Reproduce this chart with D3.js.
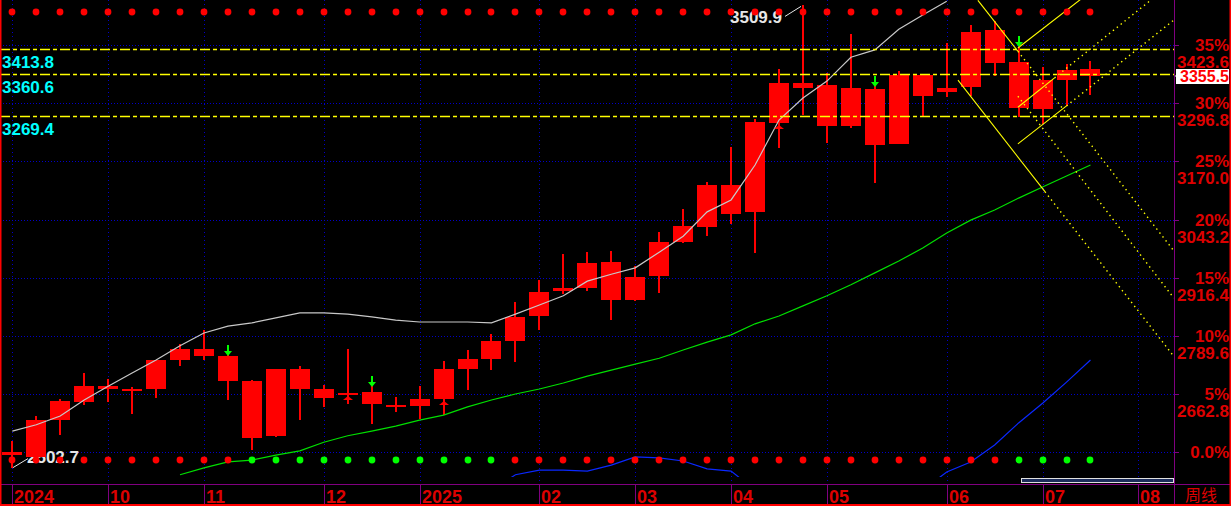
<!DOCTYPE html>
<html><head><meta charset="utf-8">
<script src="https://cdn.jsdelivr.net/npm/d3@7/dist/d3.min.js"></script>
<style>html,body{margin:0;padding:0;background:#000;overflow:hidden}</style>
</head><body><svg id="c" width="1231" height="506"></svg>
<script>
// ---------- data ----------
const basePrice = 2536.0;
const opens  = [2530,2526,2606,2646,2674,2674,2674,2737,2761,2746,2692,2572,2717,2674,2662,2667,2639,2637,2652,2717,2739,2778,2833,2887,2894,2950,2868,2920,2994,3027,3118,3060,3253,3341,3336,3247,3327,3207,3358,3321,3332,3456,3386,3284,3347,3371];
const closes = [2536,2606,2648,2680,2681,2670,2737,2761,2746,2692,2568,2717,2674,2655,2666,2642,2636,2652,2717,2739,2778,2831,2885,2894,2948,2868,2918,2994,3029,3118,3055,3256,3341,3330,3247,3330,3206,3358,3312,3330,3452,3384,3286,3347,3369,3355.5];
const highs  = [2561,2615,2652,2709,2696,2679,2737,2771,2802,2748,2693,2718,2725,2683,2761,2681,2656,2680,2735,2759,2794,2863,2911,2968,2972,2975,2942,3016,3066,3125,3201,3262,3371,3509.9,3362,3447,3334,3367,3358,3428,3467,3476,3421,3375,3382,3389];
const lows   = [2502.7,2519,2574,2639,2646,2619,2655,2723,2737,2650,2541,2569,2606,2635,2642,2598,2624,2609,2617,2672,2715,2733,2802,2881,2887,2824,2866,2883,2992,3007,3033,2970,3199,3271,3210,3243,3123,3207,3269,3310,3312,3356,3267,3251,3291,3314];

const maGrey = [2582,2596,2615,2650,2680,2709,2737,2768,2796,2811,2818,2829,2840,2840,2837,2831,2824,2820,2820,2820,2818,2837,2857,2877,2909,2924,2938,2972,3007,3060,3086,3162,3260,3308,3345,3397,3413,3458,3489,3519,null,null,null,null,null,null];
const maGreen = [null,null,null,null,null,null,null,2487,2502,2515,2519,2530,2539,2558,2572,2582,2593,2606,2617,2635,2650,2663,2674,2687,2702,2715,2728,2741,2759,2776,2792,2816,2833,2855,2877,2901,2927,2953,2981,3014,3042,3064,3090,3114,3138,3162];
const maBlue = [null,null,null,null,null,null,null,null,null,null,null,null,null,null,null,null,null,null,null,null,2454,2487,2497,2497,2495,2508,2526,2524,2517,2500,2495,2454,null,null,null,null,null,null,2454,2493,2515,2552,2600,2643,2689,2737];

// bottom signal dots: 1 = red, 0 = green
const bottomSignal = [1,1,1,1,1,1,1,1,1,1,0,0,0,0,0,0,0,0,0,0,0,1,1,1,1,1,1,1,1,1,1,1,1,1,1,1,1,1,1,1,1,1,0,0,0,0];

const monthIdx    = [0,4,8,13,17,22,26,30,34,39,43,47];
const monthLabels = ["2024","10","11","12","2025","02","03","04","05","06","07","08"];

const pctTicks    = [0,5,10,15,20,25,30,35];
const pctLabels   = ["0.0%","5%","10%","15%","20%","25%","30%","35%"];
const priceLabels = ["","2662.8","2789.6","2916.4","3043.2","3170.0","3296.8","3423.6"];

const levelPrices = [3413.8, 3360.6, 3269.4];
const levelLabels = ["3413.8","3360.6","3269.4"];

// drawn trend lines: [startIndex, startPrice, endIndex, endPrice, style]
const trendLines = [
  [40.3, 3521, 41.97, 3410, "solid"],
  [41.97, 3410, 48.48, 2975, "dot"],
  [41.97, 3312, 48.48, 2872, "dot"],
  [39.47, 3347, 43.1, 3104, "solid"],
  [43.1, 3104, 48.48, 2745, "dot"],
  [41.97, 3417, 45.5, 3560, "solid"],
  [41.97, 3288, 43.5, 3352, "solid"],
  [43.5, 3352, 48.48, 3562, "dot"],
  [41.97, 3208, 44, 3291, "solid"],
  [44, 3291, 48.48, 3478, "dot"]
];

const greenArrowIdx = [9, 15, 36, 42];
const redArrowIdx = [14, 18, 32];

const maxLabel = "3509.9";
const minLabel = "2502.7";
const periodLabel = "周线";

// ---------- layout ----------
const W = 1231, H = 506;
const plotR = 1174, plotB = 477, axisY = 484;
const xS = d3.scaleLinear().domain([0, 47]).range([12.3, 1138.4]);
const yS = d3.scaleLinear().domain([basePrice, basePrice * 1.35]).range([452.3, 45]);
const red = "#ff0000", axisRed = "#dd0000", purple = "#800080", gridBlue = "#0000c8";
const font = "'Liberation Sans', Arial, sans-serif";

const svg = d3.select("#c");
svg.append("rect").attr("width", W).attr("height", H).attr("fill", "#000");
const defs = svg.append("defs");
defs.append("clipPath").attr("id", "plot").append("rect").attr("x", 0).attr("y", 0).attr("width", plotR).attr("height", plotB);

const px = i => Math.round(xS(i));

// grid
const grid = svg.append("g").attr("shape-rendering", "crispEdges");
pctTicks.forEach(p => {
  const y = Math.round(yS(basePrice * (1 + p / 100))) + 0.5;
  grid.append("line").attr("x1", 0).attr("x2", plotR).attr("y1", y).attr("y2", y)
    .attr("stroke", gridBlue).attr("stroke-dasharray", "1 2");
});
monthIdx.forEach(i => {
  const x = px(i) + 0.5;
  grid.append("line").attr("x1", x).attr("x2", x).attr("y1", 0).attr("y2", axisY)
    .attr("stroke", gridBlue).attr("stroke-dasharray", "1 3");
});

// min / max labels (under candles)
const iMax = highs.indexOf(d3.max(highs)), iMin = lows.indexOf(d3.min(lows));
svg.append("text").attr("x", px(iMax) - 73).attr("y", yS(highs[iMax]) + 18)
  .attr("fill", "#e6e6e6").attr("font-family", font).attr("font-weight", "bold").attr("font-size", 17).text(maxLabel);
svg.append("line").attr("x1", px(iMax) - 18).attr("y1", yS(highs[iMax]) + 11).attr("x2", px(iMax) - 2).attr("y2", yS(highs[iMax]) + 1)
  .attr("stroke", "#e6e6e6");
svg.append("text").attr("x", px(iMin) + 15).attr("y", yS(lows[iMin]) - 5)
  .attr("fill", "#e6e6e6").attr("font-family", font).attr("font-weight", "bold").attr("font-size", 17).text(minLabel);
svg.append("line").attr("x1", px(iMin) + 1).attr("y1", yS(lows[iMin])).attr("x2", px(iMin) + 16).attr("y2", yS(lows[iMin]) - 9)
  .attr("stroke", "#e6e6e6");

// candles
const cg = svg.append("g").attr("clip-path", "url(#plot)").attr("shape-rendering", "crispEdges");
opens.forEach((o, i) => {
  const c = closes[i];
  const x = px(i);
  const yh = Math.round(yS(highs[i])), yl = Math.round(yS(lows[i]));
  cg.append("rect").attr("x", x - 1).attr("y", yh).attr("width", 2).attr("height", Math.max(1, yl - yh)).attr("fill", red);
  let yt = Math.round(yS(Math.max(o, c))), yb = Math.round(yS(Math.min(o, c)));
  if (yb - yt < 2) { yb = yt + 2; }
  cg.append("rect").attr("x", x - 10).attr("y", yt).attr("width", 20).attr("height", yb - yt).attr("fill", red);
});

// overlay lines
const og = svg.append("g").attr("clip-path", "url(#plot)");
const lineGen = d3.line().defined(d => d[1] != null).x(d => xS(d[0])).y(d => yS(d[1]));
[[maGrey, "#c8c8c8"], [maGreen, "#00e000"], [maBlue, "#0a28ff"]].forEach(([arr, col]) => {
  og.append("path").attr("d", lineGen(arr.map((v, i) => [i, v]))).attr("fill", "none")
    .attr("stroke", col).attr("stroke-width", 1.2);
});

// horizontal level lines
levelPrices.forEach((p, k) => {
  const y = Math.round(yS(p)) + 0.5;
  og.append("line").attr("x1", 0).attr("x2", plotR).attr("y1", y).attr("y2", y)
    .attr("stroke", "#ffff00").attr("stroke-width", 1.3).attr("stroke-dasharray", "10 3 4 3");
  svg.append("text").attr("x", 2).attr("y", y + 18).attr("fill", "#00ffff")
    .attr("font-family", font).attr("font-weight", "bold").attr("font-size", 17).text(levelLabels[k]);
});

// trend lines
trendLines.forEach(([i0, p0, i1, p1, st]) => {
  og.append("line").attr("x1", xS(i0)).attr("y1", yS(p0)).attr("x2", xS(i1)).attr("y2", yS(p1))
    .attr("stroke", "#ffff00").attr("stroke-width", st === "dot" ? 1.4 : 1.1)
    .attr("stroke-dasharray", st === "dot" ? "1.4 3.6" : null);
});

// signal dots
const dg = svg.append("g");
opens.forEach((o, i) => {
  dg.append("circle").attr("cx", px(i)).attr("cy", 12).attr("r", 3.4).attr("fill", red);
  dg.append("circle").attr("cx", px(i)).attr("cy", 460).attr("r", 3.4).attr("fill", bottomSignal[i] ? red : "#00ff00");
});

// arrow markers
greenArrowIdx.forEach(i => {
  const x = px(i), y = Math.round(yS(highs[i]));
  dg.append("path").attr("d", `M${x - 1},${y - 10}h2v6h3l-4,5l-4,-5h3z`).attr("fill", "#00ff00");
});
redArrowIdx.forEach(i => {
  const x = px(i), y = Math.round(yS(Math.min(opens[i], closes[i]))) + 2;
  dg.append("path").attr("d", `M${x},${y}l5,4h-10z`).attr("fill", red);
});

// right axis
const ax = svg.append("g");
ax.append("rect").attr("x", plotR + 1).attr("y", 0).attr("width", W - plotR - 1).attr("height", axisY).attr("fill", "#000");
ax.append("line").attr("x1", plotR + 0.5).attr("x2", plotR + 0.5).attr("y1", 0).attr("y2", H).attr("stroke", purple);
pctTicks.forEach((p, k) => {
  const y = Math.round(yS(basePrice * (1 + p / 100)));
  ax.append("line").attr("x1", plotR).attr("x2", plotR + 5).attr("y1", y + 0.5).attr("y2", y + 0.5).attr("stroke", purple);
  ax.append("text").attr("x", 1229).attr("y", y + 6).attr("text-anchor", "end").attr("fill", axisRed)
    .attr("font-family", font).attr("font-weight", "bold").attr("font-size", 17).text(pctLabels[k]);
  if (priceLabels[k]) {
    ax.append("text").attr("x", 1229).attr("y", y + 23).attr("text-anchor", "end").attr("fill", axisRed)
      .attr("font-family", font).attr("font-weight", "bold").attr("font-size", 17).text(priceLabels[k]);
  }
});
// current price box
const last = closes[closes.length - 1];
const yc = Math.round(yS(last));
ax.append("rect").attr("x", 1176).attr("y", yc - 7).attr("width", 53).attr("height", 15).attr("fill", "#fff");
ax.append("path").attr("d", `M${plotR + 1},${yc}l3,-3v6z`).attr("fill", "#fff");
ax.append("text").attr("x", 1229).attr("y", yc + 6).attr("text-anchor", "end").attr("fill", red)
  .attr("font-family", font).attr("font-weight", "bold").attr("font-size", 16).text(last.toFixed(1));

// bottom axis
const bx = svg.append("g").attr("shape-rendering", "crispEdges");
bx.append("line").attr("x1", 0).attr("x2", W).attr("y1", axisY + 0.5).attr("y2", axisY + 0.5).attr("stroke", purple);
monthIdx.concat([null]).forEach((i, k) => {
  const x = i == null ? plotR : px(i);
  bx.append("line").attr("x1", x + 0.5).attr("x2", x + 0.5).attr("y1", axisY).attr("y2", H).attr("stroke", purple);
  if (i != null) {
    bx.append("text").attr("x", x + 2).attr("y", 503).attr("fill", axisRed)
      .attr("font-family", font).attr("font-weight", "bold").attr("font-size", 18).text(monthLabels[k]);
  }
});
bx.append("text").attr("x", 1185).attr("y", 501).attr("fill", axisRed)
  .attr("font-family", "'Noto Sans CJK SC', sans-serif").attr("font-size", 16).text(periodLabel);
// scrollbar
bx.append("rect").attr("x", 1021.5).attr("y", 478.5).attr("width", 152).attr("height", 4).attr("fill", "#1c2c5c").attr("stroke", "#e0e0e0");

// borders
svg.append("rect").attr("x", 0).attr("y", 0).attr("width", 1.5).attr("height", H).attr("fill", red);
svg.append("rect").attr("x", W - 1.5).attr("y", 0).attr("width", 1.5).attr("height", H).attr("fill", red);
svg.append("rect").attr("x", 0).attr("y", H - 2).attr("width", W).attr("height", 2).attr("fill", red);
</script></body></html>
